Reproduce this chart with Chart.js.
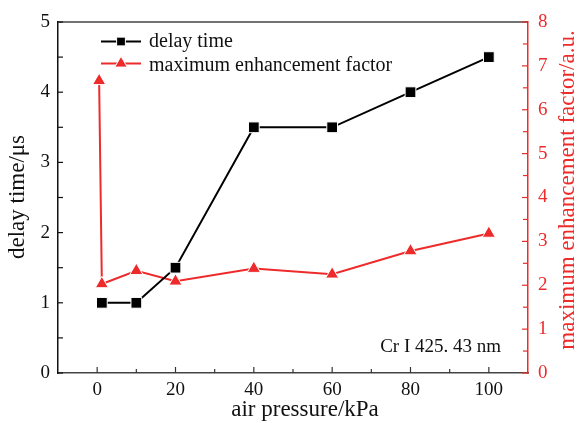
<!DOCTYPE html>
<html>
<head>
<meta charset="utf-8">
<script src="https://cdn.jsdelivr.net/npm/chart.js@4.4.0/dist/chart.umd.min.js"></script>
<style>
  body { margin: 0; background: #fff; }
  canvas { display: block; }
</style>
</head>
<body>
<canvas id="chart" width="577" height="423"></canvas>
<script>
// data
const delayPressure = [1.2, 10, 20, 40, 60, 80, 100];
const delayTime = [1, 1, 1.5, 3.5, 3.5, 4, 4.5];
const factorPressure = [0.5, 1.2, 10, 20, 40, 60, 80, 100];
const enhancementFactor = [6.66, 2.03, 2.33, 2.09, 2.38, 2.25, 2.78, 3.18];

const xTicks = [0, 20, 40, 60, 80, 100];
const xMinor = [10, 30, 50, 70, 90];
const yTicks = [0, 1, 2, 3, 4, 5];
const y1Ticks = [0, 1, 2, 3, 4, 5, 6, 7, 8];

const RED = '#ee2b2b';
const SERIF = "'Liberation Serif', 'Times New Roman', serif";

const toPoints = (xs, ys) => xs.map((x, i) => ({ x: x, y: ys[i] }));

// inward ticks, top frame line, axis titles, legend and note
const framePlugin = {
  id: 'frame',
  afterDraw(chart) {
    const { ctx, chartArea: a, scales } = chart;
    const x = scales.x, y = scales.y, y1 = scales.y1;
    ctx.save();

    ctx.lineWidth = 1.5;
    ctx.strokeStyle = '#444';
    ctx.beginPath();
    ctx.moveTo(a.left, a.top);
    ctx.lineTo(a.right, a.top);
    ctx.stroke();

    const tick = (x0, y0, dx, dy) => {
      ctx.beginPath();
      ctx.moveTo(x0, y0);
      ctx.lineTo(x0 + dx, y0 + dy);
      ctx.stroke();
    };
    ctx.lineWidth = 1.2;
    ctx.strokeStyle = '#333';
    xTicks.forEach(v => tick(x.getPixelForValue(v), a.bottom, 0, -6));
    xMinor.forEach(v => tick(x.getPixelForValue(v), a.bottom, 0, -4));
    ctx.strokeStyle = '#111';
    yTicks.forEach(v => {
      tick(a.left, y.getPixelForValue(v), 5, 0);
      if (v < 5) tick(a.left, y.getPixelForValue(v + 0.5), 5, 0);
    });
    ctx.strokeStyle = RED;
    y1Ticks.forEach(v => {
      tick(a.right, y1.getPixelForValue(v), -6, 0);
      if (v < 8) tick(a.right, y1.getPixelForValue(v + 0.5), -5, 0);
    });

    // axis titles
    ctx.textBaseline = 'alphabetic';
    ctx.textAlign = 'center';
    ctx.font = '23px ' + SERIF;
    ctx.fillStyle = '#111';
    ctx.fillText('air pressure/kPa', 305, 416);

    ctx.save();
    ctx.translate(24, 197);
    ctx.rotate(-Math.PI / 2);
    ctx.fillText('delay time/\u03bcs', 0, 0);
    ctx.restore();

    ctx.save();
    ctx.translate(574, 190);
    ctx.rotate(-Math.PI / 2);
    ctx.fillStyle = RED;
    ctx.fillText('maximum enhancement factor/a.u.', 0, 0);
    ctx.restore();

    // legend
    const rows = [
      { ds: chart.data.datasets[0], y: 41.5, base: 46.5, r: 6.2 },
      { ds: chart.data.datasets[1], y: 63.5, base: 70.5, r: 7.2 }
    ];
    ctx.font = '20px ' + SERIF;
    ctx.textAlign = 'left';
    rows.forEach(row => {
      ctx.strokeStyle = row.ds.borderColor;
      ctx.lineWidth = 2;
      ctx.beginPath();
      ctx.moveTo(101, row.y);
      ctx.lineTo(141, row.y);
      ctx.stroke();
      ctx.fillStyle = row.ds.pointBackgroundColor;
      ctx.strokeStyle = '#fff';
      ctx.lineWidth = 1;
      Chart.helpers.drawPoint(ctx, {
        pointStyle: row.ds.pointStyle,
        radius: row.r,
        rotation: 0,
        borderWidth: 1
      }, 121, row.y);
      ctx.fillStyle = '#111';
      ctx.fillText(row.ds.label, 149, row.base);
    });

    ctx.font = '19px ' + SERIF;
    ctx.textAlign = 'right';
    ctx.fillText('Cr I 425. 43 nm', 501, 352);

    ctx.restore();
  }
};

const ctx = document.getElementById('chart').getContext('2d');
new Chart(ctx, {
  type: 'line',
  data: {
    datasets: [
      {
        label: 'delay time',
        data: toPoints(delayPressure, delayTime),
        yAxisID: 'y',
        borderColor: '#000',
        borderWidth: 2,
        pointStyle: 'rect',
        pointRadius: 7.6,
        pointBackgroundColor: '#000',
        pointBorderColor: '#fff',
        pointBorderWidth: 1,
        tension: 0
      },
      {
        label: 'maximum enhancement factor',
        data: toPoints(factorPressure, enhancementFactor),
        yAxisID: 'y1',
        borderColor: RED,
        borderWidth: 2,
        pointStyle: 'triangle',
        pointRadius: 7.6,
        pointBackgroundColor: RED,
        pointBorderColor: '#fff',
        pointBorderWidth: 1,
        tension: 0
      }
    ]
  },
  options: {
    responsive: false,
    animation: false,
    layout: { padding: { top: 22, left: 0, right: 0, bottom: 0 } },
    plugins: {
      legend: { display: false },
      tooltip: { enabled: false }
    },
    scales: {
      x: {
        type: 'linear',
        min: -10,
        max: 110,
        afterBuildTicks: s => { s.ticks = xTicks.map(v => ({ value: v })); },
        afterFit: s => { s.height = 50; },
        grid: { display: false, drawTicks: false },
        border: { display: true, color: '#444', width: 1.5 },
        ticks: { padding: 6, color: '#111', font: { family: SERIF, size: 19 }, maxRotation: 0 }
      },
      y: {
        position: 'left',
        min: 0,
        max: 5,
        afterBuildTicks: s => { s.ticks = yTicks.map(v => ({ value: v })); },
        afterFit: s => { s.width = 58; },
        grid: { display: false, drawTicks: false },
        border: { display: true, color: '#111', width: 1.5 },
        ticks: { padding: 8, color: '#111', font: { family: SERIF, size: 19 } }
      },
      y1: {
        position: 'right',
        min: 0,
        max: 8,
        afterBuildTicks: s => { s.ticks = y1Ticks.map(v => ({ value: v })); },
        afterFit: s => { s.width = 49; },
        grid: { display: false, drawTicks: false },
        border: { display: true, color: RED, width: 1.5 },
        ticks: { padding: 10, color: RED, font: { family: SERIF, size: 19 } }
      }
    }
  },
  plugins: [framePlugin]
});
</script>
</body>
</html>
